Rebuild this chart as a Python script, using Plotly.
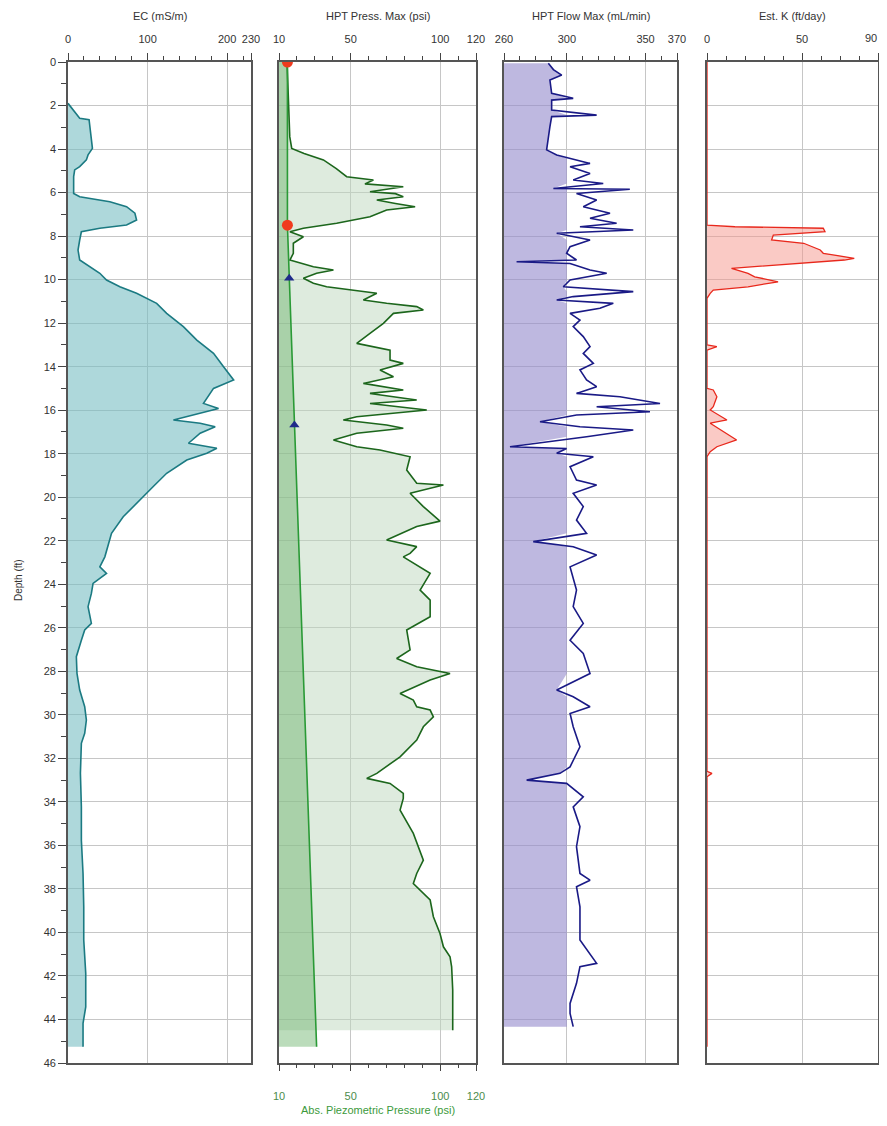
import plotly.graph_objects as go

# ---------------- data ----------------
ec_depth = [1.9, 2.59, 2.65, 2.97, 3.58, 3.97, 4.27, 4.5, 4.81, 4.96,
            5.27, 6.04, 6.19, 6.42, 6.65, 6.95, 7.26, 7.49, 7.64, 7.8,
            8.18, 8.64, 9.1, 9.41, 9.71, 10.02, 10.33, 10.63, 11.09, 11.55,
            12.16, 12.78, 13.39, 14.0, 14.61, 15.0, 15.23, 15.69, 15.92, 16.15,
            16.45, 16.6, 16.76, 17.06, 17.52, 17.75, 17.98, 18.29, 18.9, 19.51,
            20.13, 20.9, 21.66, 22.74, 23.2, 23.5, 23.73, 23.96, 24.42, 25.03,
            25.8, 26.1, 26.57, 27.33, 28.1, 28.86, 29.63, 30.24, 30.85, 31.31,
            32.69, 34.22, 35.76, 37.29, 38.82, 40.35, 41.88, 43.42, 44.18, 45.25]
ec_val = [0, 14.7, 26.5, 27.3, 29.4, 30.7, 25.2, 23.1, 14.7, 8.4,
          7.1, 7.1, 14.7, 52.6, 73.6, 84.1, 86.2, 73.6, 40, 16.8,
          14.7, 12.6, 14.7, 27.3, 40, 48.4, 65.2, 86.2, 111.4, 124,
          145, 161.9, 182.9, 195.5, 208.2, 182.9, 178.7, 170.3, 189.2, 166.1,
          132.5, 166.1, 185, 166.1, 151.4, 187.1, 174.5, 149.3, 124, 107.2,
          90.4, 69.4, 54.7, 46.3, 40, 48.4, 40, 31.5, 29.4, 25.2,
          29.4, 21, 16.8, 10.5, 11.3, 14.7, 21, 23.1, 21, 16.8,
          15.6, 16.8, 16.8, 18.9, 19.8, 19.8, 22.3, 22.3, 18.9, 18.9]

press_depth = [0.0, 1.0, 2.0, 3.0, 3.43, 3.97, 4.2, 4.5, 4.9, 5.27,
               5.42, 5.6, 5.73, 5.96, 6.05, 6.19, 6.34, 6.5, 6.65, 6.8,
               7.11, 7.41, 7.64, 7.8, 8.03, 8.33, 8.79, 9.1, 9.41, 9.56,
               9.71, 9.94, 10.17, 10.33, 10.48, 10.63, 10.94, 11.09, 11.24, 11.4,
               11.55, 12.01, 12.47, 12.93, 13.24, 13.7, 13.85, 14.15, 14.46, 14.77,
               15.07, 15.23, 15.53, 15.69, 15.99, 16.3, 16.45, 16.68, 16.83, 17.06,
               17.37, 17.68, 17.83, 18.14, 18.75, 19.36, 19.44, 19.82, 20.43, 21.1,
               21.35, 21.97, 22.27, 22.58, 22.74, 23.5, 24.27, 24.73, 25.49, 26.1,
               27.02, 27.41, 27.79, 28.1, 28.4, 29.02, 29.32, 29.63, 29.78, 30.09,
               30.55, 31.16, 31.93, 32.69, 32.92, 33.15, 33.61, 33.84, 34.38, 35.45,
               36.68, 37.29, 37.75, 38.51, 39.28, 40.05, 40.66, 41.12, 41.58, 42.65,
               44.33, 44.5]
press_val = [14.5, 15.0, 15.3, 15.6, 16.0, 17.1, 24.0, 34.8, 42.0, 47.8,
             62.7, 58.0, 79.4, 60.8, 75.0, 79.4, 64.6, 75.0, 86.0, 70.1,
             60.8, 42.2, 23.6, 16.1, 23.6, 18.0, 18.0, 16.1, 29.2, 40.4,
             31.0, 23.6, 29.2, 36.6, 49.7, 64.6, 57.1, 70.1, 86.9, 90.6,
             73.9, 68.3, 60.8, 53.4, 72.0, 72.0, 79.4, 66.4, 73.9, 57.1,
             79.4, 60.8, 86.9, 60.8, 92.5, 53.4, 45.9, 70.1, 79.4, 53.4,
             40.4, 53.4, 66.4, 83.2, 81.3, 86.9, 101.8, 83.2, 90.6, 99.9,
             86.9, 70.1, 86.9, 83.2, 79.4, 94.4, 88.8, 94.4, 94.4, 81.3,
             83.2, 75.7, 86.9, 105.5, 94.4, 77.6, 85.0, 86.9, 94.4, 96.2,
             90.6, 86.9, 77.6, 64.6, 59.0, 72.0, 79.4, 79.4, 77.6, 85.0,
             90.6, 86.9, 85.0, 94.4, 96.2, 99.9, 101.8, 105.5, 106.4, 107.0,
             107.0, 107.0]

piezo_depth = [0.0, 7.5, 45.25]
piezo_val = [14.7, 14.7, 31.0]
water_marker_depth = [0.0, 7.5]
water_marker_val = [14.7, 14.7]
dissip_marker_depth = [9.94, 16.68]
dissip_marker_val = [15.7, 18.6]

flow_depth = [0.06, 0.35, 0.6, 0.83, 1.44, 1.67, 1.75, 2.21, 2.44, 2.51,
              2.97, 3.58, 4.04, 4.27, 4.43, 4.66, 4.81, 5.12, 5.42, 5.58,
              5.81, 5.85, 6.04, 6.34, 6.65, 6.95, 7.18, 7.41, 7.57, 7.72,
              7.87, 8.18, 8.49, 8.79, 9.1, 9.18, 9.26, 9.56, 9.71, 10.02,
              10.33, 10.55, 10.78, 10.94, 11.09, 11.32, 11.55, 11.86, 12.16, 12.62,
              13.08, 13.39, 13.85, 14.15, 14.61, 14.92, 15.23, 15.38, 15.69, 15.84,
              16.07, 16.22, 16.53, 16.76, 16.91, 17.22, 17.68, 17.76, 17.98, 18.14,
              18.6, 19.21, 19.44, 19.82, 20.43, 21.05, 21.66, 22.04, 22.28, 22.66,
              23.2, 24.27, 25.03, 25.8, 26.57, 27.18, 28.1, 28.86, 29.17, 29.63,
              29.94, 30.55, 31.47, 32.39, 32.69, 33.0, 33.15, 33.77, 34.23, 35.14,
              36.06, 37.29, 37.6, 37.9, 38.82, 40.35, 41.42, 41.57, 42.34, 43.26,
              43.72, 44.33]
flow_val = [288.2, 291.4, 296.7, 289.2, 290.3, 304.0, 290.3, 290.3, 318.9, 290.3,
            289.2, 288.2, 287.1, 293.5, 302.0, 314.7, 302.0, 314.7, 304.0, 323.1,
            291.4, 340.0, 306.1, 318.9, 310.4, 327.4, 314.7, 331.6, 308.3, 342.2,
            293.5, 314.7, 302.0, 299.8, 306.1, 268.0, 302.0, 314.7, 325.3, 302.0,
            297.7, 342.2, 304.0, 293.5, 329.5, 321.0, 302.0, 308.3, 304.0, 310.4,
            314.7, 310.4, 316.8, 308.3, 312.5, 318.9, 306.1, 333.7, 359.2, 318.9,
            352.8, 306.1, 282.9, 308.3, 342.2, 312.5, 263.8, 299.8, 293.5, 316.8,
            302.0, 306.1, 318.9, 304.0, 310.4, 306.1, 312.5, 278.6, 304.0, 318.9,
            302.0, 306.1, 304.0, 310.4, 302.0, 310.4, 314.7, 293.5, 304.0, 314.7,
            302.0, 304.0, 308.3, 302.0, 295.6, 274.4, 299.8, 310.4, 304.0, 308.3,
            306.1, 308.3, 314.7, 306.1, 308.3, 308.3, 318.9, 308.3, 306.1, 302.0,
            302.0, 304.0]
flow_fill_cap = 300

k_depth = [0.0, 7.5, 7.57, 7.64, 7.8, 7.95, 8.18, 8.33, 8.64, 8.79,
           9.02, 9.1, 9.48, 9.71, 9.87, 10.1, 10.33, 10.48, 10.63, 10.86,
           13.0, 13.08, 13.24, 15.0, 15.07, 15.38, 15.84, 15.99, 16.45, 16.6,
           17.37, 17.68, 17.91, 18.14, 32.6, 32.69, 32.85, 45.25]
k_val = [0, 0, 14.7, 61.2, 62.1, 34.9, 34.0, 50.9, 59.6, 61.2,
         77.5, 72.3, 12.9, 21.6, 25.1, 37.4, 21.6, 3.3, 1.7, 0,
         0, 5.2, 0, 0, 3.3, 5.2, 3.3, 1.7, 10.5, 1.7,
         15.6, 5.2, 1.7, 0, 0, 2.6, 0, 0]

ec_ticks = [0, 100, 200, 230]
press_ticks = [10, 50, 100, 120]
flow_ticks = [260, 300, 350, 370]
k_ticks = [0, 50, 90]

# ---------------- figure ----------------
# the page body has an 8px margin, so the figure is 16px smaller than the window
OFF = 8
W, H = 887 - 2 * OFF, 1126 - 2 * OFF
FONT = "Liberation Sans, Arial, sans-serif"


def px(xs):
    return (xs - OFF) / W


def py(ys):
    return 1 - (ys - OFF) / H


fig = go.Figure()

# EC
fig.add_trace(go.Scatter(x=[0] + ec_val + [0], y=[ec_depth[0]] + ec_depth + [ec_depth[-1]],
                         fill="toself", fillcolor="rgba(120,190,195,0.6)", line=dict(width=0),
                         mode="lines", xaxis="x", yaxis="y", hoverinfo="skip"))
fig.add_trace(go.Scatter(x=ec_val, y=ec_depth, mode="lines",
                         line=dict(color="#1b7a82", width=1.6), xaxis="x", yaxis="y"))

# Pressure
fig.add_trace(go.Scatter(x=[10] + press_val + [10], y=[press_depth[0]] + press_depth + [press_depth[-1]],
                         fill="toself", fillcolor="rgba(190,215,190,0.5)", line=dict(width=0),
                         mode="lines", xaxis="x2", yaxis="y2", hoverinfo="skip"))
fig.add_trace(go.Scatter(x=[10] + piezo_val + [10], y=[piezo_depth[0]] + piezo_depth + [piezo_depth[-1]],
                         fill="toself", fillcolor="rgba(110,180,110,0.47)", line=dict(width=0),
                         mode="lines", xaxis="x2", yaxis="y2", hoverinfo="skip"))
fig.add_trace(go.Scatter(x=press_val, y=press_depth, mode="lines",
                         line=dict(color="#1c661c", width=1.6), xaxis="x2", yaxis="y2"))
fig.add_trace(go.Scatter(x=piezo_val, y=piezo_depth, mode="lines",
                         line=dict(color="#2a9a36", width=1.6), xaxis="x2", yaxis="y2"))
fig.add_trace(go.Scatter(x=water_marker_val, y=water_marker_depth, mode="markers",
                         marker=dict(color="#f03a1e", size=11, symbol="circle"),
                         xaxis="x2", yaxis="y2", cliponaxis=True))
fig.add_trace(go.Scatter(x=dissip_marker_val, y=dissip_marker_depth, mode="markers",
                         marker=dict(color="#1f2a8a", size=9, symbol="triangle-up"),
                         xaxis="x2", yaxis="y2"))

# Flow
flow_fill_x = [min(v, flow_fill_cap) for v in flow_val]
fig.add_trace(go.Scatter(x=[260] + flow_fill_x + [260], y=[flow_depth[0]] + flow_depth + [flow_depth[-1]],
                         fill="toself", fillcolor="rgba(150,140,205,0.62)", line=dict(width=0),
                         mode="lines", xaxis="x3", yaxis="y3", hoverinfo="skip"))
fig.add_trace(go.Scatter(x=flow_val, y=flow_depth, mode="lines",
                         line=dict(color="#1a1a86", width=1.6), xaxis="x3", yaxis="y3"))

# K
fig.add_trace(go.Scatter(x=[0] + k_val + [0], y=[k_depth[0]] + k_depth + [k_depth[-1]],
                         fill="toself", fillcolor="rgba(245,150,140,0.5)", line=dict(width=0),
                         mode="lines", xaxis="x4", yaxis="y4", hoverinfo="skip"))
fig.add_trace(go.Scatter(x=k_val, y=k_depth, mode="lines",
                         line=dict(color="#e8281c", width=1.3), xaxis="x4", yaxis="y4"))

ydom = [py(1063), py(62)]
xdoms = [[px(68), px(251)], [px(279), px(476)], [px(504), px(677)], [px(707), px(878)]]
ranges = [[0, 230], [10, 120], [260, 370], [0, 90]]
tickv = [ec_ticks, press_ticks, flow_ticks, k_ticks]
tickt = [[str(t) for t in ec_ticks], [str(t) for t in press_ticks],
         [str(t) for t in flow_ticks], [str(t) for t in k_ticks[:-1]] + [""]]
minor_d = [20, 10, 10, 10]
minor_t0 = [0, 10, 260, 0]

GRID = "#c6c6c6"
LINE = "#555555"

layout = dict(width=W, height=H, margin=dict(l=0, r=0, t=0, b=0, autoexpand=False),
              paper_bgcolor="white", plot_bgcolor="white", showlegend=False,
              font=dict(family=FONT, size=11, color="#333333"))

for i in range(4):
    xn = "xaxis" if i == 0 else f"xaxis{i+1}"
    yn = "yaxis" if i == 0 else f"yaxis{i+1}"
    ya = "y" if i == 0 else f"y{i+1}"
    xa = "x" if i == 0 else f"x{i+1}"
    layout[xn] = dict(domain=xdoms[i], range=ranges[i], anchor=ya, side="top",
                      tickmode="array", tickvals=tickv[i], ticktext=tickt[i],
                      ticks="outside", ticklen=7, tickwidth=1, tickcolor="#444",
                      ticklabelstandoff=6, automargin=False,
                      minor=dict(dtick=minor_d[i], tick0=minor_t0[i], ticks="outside", ticklen=4,
                                 tickcolor="#444", showgrid=False),
                      showline=True, mirror=True, linecolor=LINE, linewidth=1.6,
                      showgrid=True, gridcolor=GRID, gridwidth=1, zeroline=False,
                      tickfont=dict(size=11, color="#333"), fixedrange=True)
    ydict = dict(domain=ydom, range=[46, 0], anchor=xa, dtick=2, tick0=0, automargin=False,
                 showgrid=True, gridcolor=GRID, gridwidth=1, zeroline=False,
                 showline=True, mirror=True, linecolor=LINE, linewidth=1.6, fixedrange=True)
    if i == 0:
        ydict.update(ticks="outside", ticklen=8, tickcolor="#444", showticklabels=True,
                     tickfont=dict(size=11, color="#333"),
                     minor=dict(dtick=1, tick0=0, ticks="outside", ticklen=5, tickcolor="#444",
                                showgrid=False))
    else:
        ydict.update(ticks="", showticklabels=False, matches="y")
    layout[yn] = ydict

# bottom axis for absolute piezometric pressure
layout["xaxis5"] = dict(overlaying="x2", anchor="y2", side="bottom", range=[10, 120],
                        tickmode="array", tickvals=press_ticks, ticktext=[str(t) for t in press_ticks],
                        ticks="outside", ticklen=7, tickcolor="#444", ticklabelstandoff=16,
                        automargin=False,
                        minor=dict(dtick=10, tick0=10, ticks="outside", ticklen=4, tickcolor="#444"),
                        showgrid=False, zeroline=False, showline=False,
                        tickfont=dict(size=11, color="#4c8c4c"), fixedrange=True)
fig.add_trace(go.Scatter(x=[10, 120], y=[None, None], xaxis="x5", yaxis="y2",
                         mode="lines", showlegend=False, hoverinfo="skip"))

titles = ["EC (mS/m)", "HPT Press. Max (psi)", "HPT Flow Max (mL/min)", "Est. K (ft/day)"]
annotations = []
for i, t in enumerate(titles):
    annotations.append(dict(text=t, xref="paper", yref="paper",
                            x=(xdoms[i][0] + xdoms[i][1]) / 2, y=py(16),
                            showarrow=False, font=dict(size=11, color="#333"),
                            xanchor="center", yanchor="middle"))
# last K tick label sits at the very edge of the page: keep it inside the figure
annotations.append(dict(text=str(k_ticks[-1]), xref="paper", yref="paper",
                        x=1.0, y=py(38), showarrow=False, xanchor="right", yanchor="middle",
                        font=dict(size=11, color="#333")))
annotations.append(dict(text="Abs. Piezometric Pressure (psi)", xref="paper", yref="paper",
                        x=(xdoms[1][0] + xdoms[1][1]) / 2, y=0.0,
                        showarrow=False, font=dict(size=11, color="#3c9a3c"),
                        xanchor="center", yanchor="bottom"))
annotations.append(dict(text="Depth (ft)", xref="paper", yref="paper",
                        x=px(18), y=py(580), textangle=-90,
                        showarrow=False, font=dict(size=10, color="#333"),
                        xanchor="center", yanchor="middle"))
layout["annotations"] = annotations

fig.update_layout(**layout)
fig.write_html("out.html")
